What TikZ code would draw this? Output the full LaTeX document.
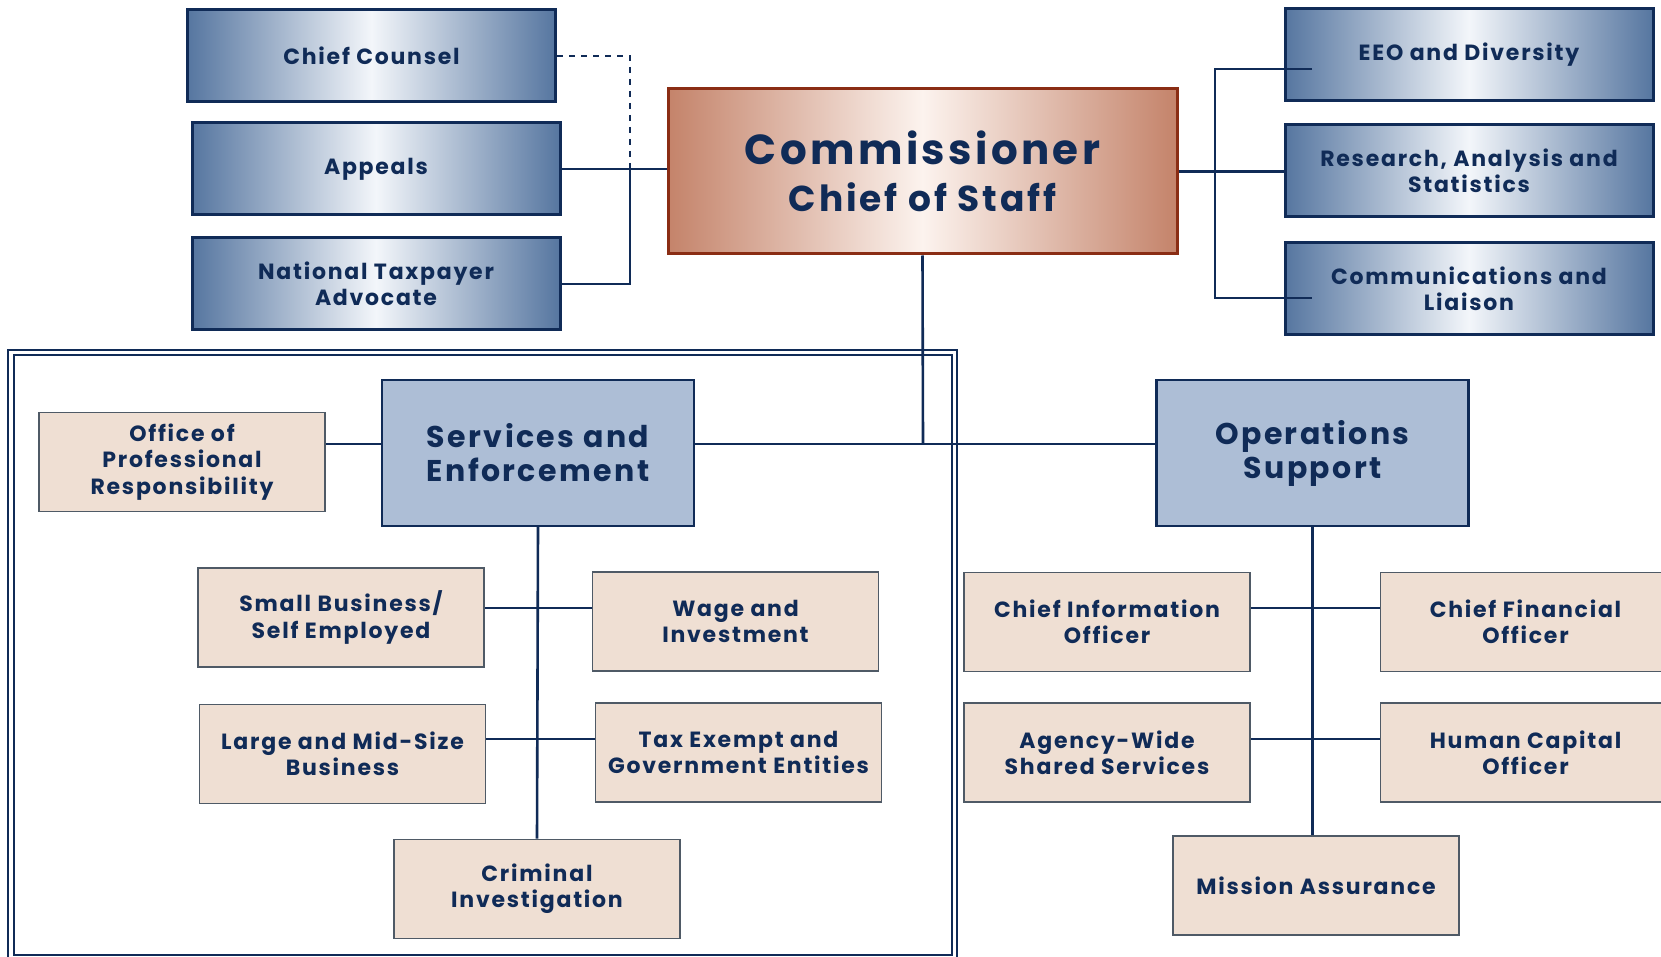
\documentclass[tikz,border=0pt]{standalone}
\usepackage{fontspec}
\setmainfont{Poppins}[LetterSpace=8]
\usepackage{tikz}
\definecolor{navy}{HTML}{102B57}
\definecolor{bluedge}{HTML}{5676A0}
\definecolor{bluemid}{HTML}{F3F6FA}
\definecolor{copperedge}{HTML}{C4836A}
\definecolor{coppermid}{HTML}{FCF3EE}
\definecolor{copperline}{HTML}{8A2D14}
\definecolor{divfill}{HTML}{ADBED6}
\definecolor{unitfill}{HTML}{EFDFD3}
\definecolor{unitline}{HTML}{4F5A66}
\tikzstyle{staff}=[draw=navy, line width=1.5pt, left color=bluedge, right color=bluedge, middle color=bluemid, text=navy, font=\bfseries\fontsize{11}{13.2}\selectfont, align=center, minimum width=184pt, minimum height=46pt, inner sep=0pt]
\tikzstyle{head}=[draw=copperline, line width=1.5pt, left color=copperedge, right color=copperedge, middle color=coppermid, text=navy, font=\bfseries\fontsize{21}{23.5}\selectfont, align=center, minimum width=254.5pt, minimum height=82.5pt, inner sep=0pt]
\tikzstyle{division}=[draw=navy, line width=1.2pt, fill=divfill, text=navy, font=\bfseries\fontsize{15}{17}\selectfont, align=center, minimum width=156pt, minimum height=73pt, inner sep=0pt]
\tikzstyle{unit}=[draw=unitline, line width=0.8pt, fill=unitfill, text=navy, font=\bfseries\fontsize{11}{13.2}\selectfont, align=center, minimum width=143pt, minimum height=49.5pt, inner sep=0pt]
\tikzstyle{link}=[draw=navy, line width=1.3pt]
\tikzstyle{frame}=[draw=navy, line width=1pt]

\begin{document}
\begin{tikzpicture}[x=0.5pt, y=-0.5pt]
    \useasboundingbox (0,0) rectangle (1661,957);
    \fill[white] (0,0) rectangle (1661,957);
    \draw[frame] (8,350) rectangle (957,962);
    \draw[frame] (13.5,355.5) rectangle (952,955);

    \node[staff] (counsel) at (371.5,56) {Chief Counsel};
    \node[staff] (appeals) at (376,169) {Appeals};
    \node[staff] (advocate) at (376,284) {National Taxpayer\\Advocate};
    \node[head] (comm) at (922.5,171.5) {Commissioner\\\fontsize{18}{23.5}\selectfont Chief of Staff};
    \node[staff] (eeo) at (1469,55) {EEO and Diversity};
    \node[staff] (ras) at (1469,171) {Research, Analysis and\\Statistics};
    \node[staff] (liaison) at (1469,289) {Communications and\\Liaison};

    \node[division] (se) at (538,453) {Services and\\Enforcement};
    \node[division] (ops) at (1312.5,453) {Operations\\Support};

    \node[unit] (opr) at (182,462) {Office of\\Professional\\Responsibility};
    \node[unit] (sbse) at (341,617.5) {Small Business/\\Self Employed};
    \node[unit] (wi) at (735.5,621.5) {Wage and\\Investment};
    \node[unit] (lmsb) at (342.5,754) {Large and Mid-Size\\Business};
    \node[unit] (tege) at (738.5,752.5) {Tax Exempt and\\Government Entities};
    \node[unit] (ci) at (537,889) {Criminal\\Investigation};
    \node[unit] (cio) at (1107,622) {Chief Information\\Officer};
    \node[unit, minimum width=145pt] (cfo) at (1525.5,622) {Chief Financial\\Officer};
    \node[unit] (awss) at (1107,752.5) {Agency-Wide\\Shared Services};
    \node[unit, minimum width=145pt] (hco) at (1525.5,752.5) {Human Capital\\Officer};
    \node[unit] (ma) at (1316,885.5) {Mission Assurance};

    \coordinate (lj) at (630,169);
    \coordinate (rtop) at (1215,69);
    \coordinate (rbot) at (1215,298);
    \coordinate (eeostub) at (1312,69);
    \coordinate (liaisonstub) at (1312,298);
    \coordinate (hub) at (923,444);
    \coordinate (serow1) at (537,608);
    \coordinate (serow2) at (537,739);
    \coordinate (osrow1) at (1310,608);
    \coordinate (osrow2) at (1310,739);

    \draw[link, line width=1pt, dashed] (counsel.east) -| (lj);
    \draw[link] (appeals.east) -- (appeals.east -| comm.west);
    \draw[link] (advocate.east) -| (lj);
    \draw[link] (comm.east) -- (comm.east -| ras.west);
    \draw[link] (eeostub) -- (rtop) -- (rbot) -- (liaisonstub);
    \draw[link] (comm.south) -- (hub);
    \draw[link] (opr.east |- hub) -- (se.west |- hub);
    \draw[link] (se.east |- hub) -- (ops.west |- hub);
    \draw[link] (se.south) -- (ci.north);
    \draw[link] (sbse.east |- serow1) -- (wi.west |- serow1);
    \draw[link] (lmsb.east |- serow2) -- (tege.west |- serow2);
    \draw[link] (ops.south) -- (ops.south |- ma.north);
    \draw[link] (cio.east |- osrow1) -- (cfo.west |- osrow1);
    \draw[link] (awss.east |- osrow2) -- (hco.west |- osrow2);
\end{tikzpicture}
\end{document}
